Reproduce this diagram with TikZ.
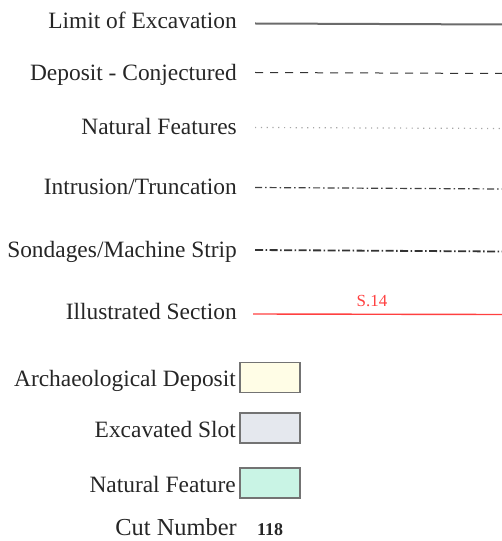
\documentclass[tikz,border=0pt]{standalone}
\usepackage{fontspec}
\setmainfont{Liberation Serif}
\begin{document}
\begin{tikzpicture}[x=1bp,y=-1bp,
  lbl/.style={anchor=base east,inner sep=0pt,text=black!85,font=\fontsize{23.5}{25}\selectfont},
  keybox/.style={draw=black!55,line width=1.3bp,minimum width=60bp,minimum height=30bp,inner sep=0pt},
  limitline/.style={draw=black!58,line width=2bp},
  depline/.style={draw=black!80,line width=1bp,dash pattern=on 8bp off 7bp},
  natline/.style={draw=black!35,line width=1.2bp,dash pattern=on 1.2bp off 4.6bp},
  intline/.style={draw=black!75,line width=1.2bp,dash pattern=on 7bp off 3bp on 1.5bp off 3bp},
  sonline/.style={draw=black!80,line width=1.8bp,dash pattern=on 8bp off 2.5bp on 1.5bp off 2.5bp},
  secline/.style={draw=red!75!white,line width=1.4bp}]
\useasboundingbox (0,0) rectangle (502,541);
\definecolor{archfill}{HTML}{FFFDE6}
\definecolor{slotfill}{HTML}{E5E8EE}
\definecolor{natfill}{HTML}{C9F4E5}
\node[lbl] (t1) at (237,28.5) {Limit of Excavation};
\node[lbl] (t2) at (237,81) {Deposit - Conjectured};
\node[lbl] (t3) at (237,135) {Natural Features};
\node[lbl] (t4) at (237,195) {Intrusion/Truncation};
\node[lbl] (t5) at (237,257) {Sondages/Machine Strip};
\node[lbl] (t6) at (237,319) {Illustrated Section};
\node[lbl] (t7) at (236,386) {Archaeological Deposit};
\node[lbl] (t8) at (236,437) {Excavated Slot};
\node[lbl] (t9) at (236,492) {Natural Feature};
\node[lbl,font=\fontsize{24.5}{26}\selectfont] (t10) at (237,535.5) {Cut Number};
\node[anchor=base west,inner sep=0pt,text=black!85,font=\fontsize{18}{20}\selectfont\bfseries] (cut) at (257,535.5) {118};
\coordinate (a1) at (255,23.5); \coordinate (b1) at (502,24.5);
\coordinate (a2) at (255,72.5); \coordinate (b2) at (502,73.5);
\coordinate (a3) at (255,127.5); \coordinate (b3) at (502,128.5);
\coordinate (a4) at (255,187.5); \coordinate (b4) at (502,189);
\coordinate (a5) at (255,250); \coordinate (b5) at (502,251.5);
\coordinate (a6) at (253,314); \coordinate (b6) at (502,314.5);
\draw[limitline] (a1) -- (b1);
\draw[depline] (a2) -- (b2);
\draw[natline] (a3) -- (b3);
\draw[intline] (a4) -- (b4);
\draw[sonline] (a5) -- (b5);
\draw[secline] (a6) -- (b6);
\node[anchor=base,inner sep=0pt,text=red!75!white,font=\fontsize{17}{19}\selectfont] (s14) at (372,306) {S.14};
\node[keybox,fill=archfill] (k1) at (270,377.5) {};
\node[keybox,fill=slotfill] (k2) at (270,428) {};
\node[keybox,fill=natfill] (k3) at (270,483) {};
\end{tikzpicture}
\end{document}
